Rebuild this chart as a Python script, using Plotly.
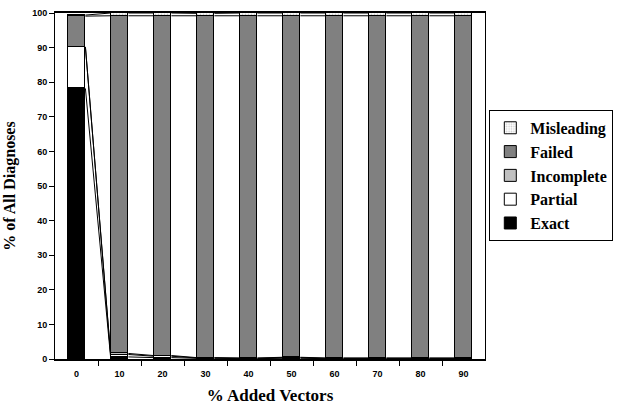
import numpy as np
import plotly.graph_objects as go

categories = ["0", "10", "20", "30", "40", "50", "60", "70", "80", "90"]
exact = [78.2, 0.6, 0.4, 0.2, 0.1, 0.2, 0.1, 0.1, 0.1, 0.1]
partial = [12.0, 0.7, 0.4, 0.1, 0.1, 0.2, 0.1, 0.1, 0.1, 0.1]
incomplete = [0.0, 0.3, 0.2, 0.1, 0.1, 0.1, 0.1, 0.1, 0.1, 0.1]
failed = [8.9, 97.6, 98.2, 98.8, 98.9, 98.7, 98.9, 98.9, 98.9, 98.9]
misleading = [0.3, 0.8, 0.8, 0.7, 0.8, 0.8, 0.8, 0.8, 0.8, 0.8]
y_ticks = [0, 10, 20, 30, 40, 50, 60, 70, 80, 90, 100]

series = [
    ("Exact", exact, "#000000", None),
    ("Partial", partial, "#ffffff", None),
    ("Incomplete", incomplete, "#c0c0c0", None),
    ("Failed", failed, "#808080", None),
    ("Misleading", misleading, "#f4f4f4", "."),
]

xpos = np.arange(len(categories))
bw = 0.415

fig = go.Figure()
cum = np.zeros(len(categories))
for name, vals, color, pat in series:
    vals = np.array(vals, dtype=float)
    marker = dict(color=color, line=dict(color="black", width=1))
    if pat:
        marker["pattern"] = dict(shape=pat, fgcolor="#9a9a9a", bgcolor="#ffffff", size=3, solidity=0.3)
    fig.add_trace(go.Bar(x=xpos, y=vals, width=bw, name=name, marker=marker))
    cum = cum + vals
    # series lines (Excel style) connecting tops of each segment
    lx, ly = [], []
    for i in range(len(categories) - 1):
        lx += [xpos[i] + bw / 2, xpos[i + 1] - bw / 2, None]
        ly += [cum[i], cum[i + 1], None]
    fig.add_trace(go.Scatter(x=lx, y=ly, mode="lines", line=dict(color="black", width=1),
                             showlegend=False, hoverinfo="skip"))

tickfont = dict(family="Liberation Sans", size=9, color="black", weight="bold")
fig.update_layout(
    width=621, height=410,
    margin=dict(l=55, r=132, t=8, b=50),
    barmode="stack",
    bargap=0,
    plot_bgcolor="white", paper_bgcolor="white",
    showlegend=True,
    legend=dict(
        traceorder="reversed",
        x=1.01, xanchor="left", y=0.72, yanchor="top",
        bordercolor="black", borderwidth=1, bgcolor="white",
        font=dict(family="Liberation Serif", size=16, color="black", weight="bold"),
        itemwidth=30,
    ),
    xaxis=dict(
        range=[-0.5, 9.5], tickmode="array", tickvals=list(xpos), ticktext=categories,
        ticks="", tickfont=tickfont, showgrid=False, zeroline=False, ticklabelstandoff=5,
        showline=True, linecolor="black", linewidth=1.5, mirror=True,
        minor=dict(tickmode="array", tickvals=list(xpos[:-1] + 0.5), ticks="outside",
                   ticklen=5, tickcolor="black", tickwidth=1, showgrid=False),
        title=dict(text="% Added Vectors", standoff=12,
                   font=dict(family="Liberation Serif", size=17, color="black", weight="bold")),
    ),
    yaxis=dict(
        range=[0, 100], tickmode="array", tickvals=y_ticks, ticks="outside", ticklen=5,
        tickcolor="black", tickfont=tickfont, showgrid=False, zeroline=False,
        showline=True, linecolor="black", linewidth=1, mirror=True,
        title=dict(text="% of All Diagnoses", standoff=12,
                   font=dict(family="Liberation Serif", size=16, color="black", weight="bold")),
    ),
)

fig.write_html("out.html")
